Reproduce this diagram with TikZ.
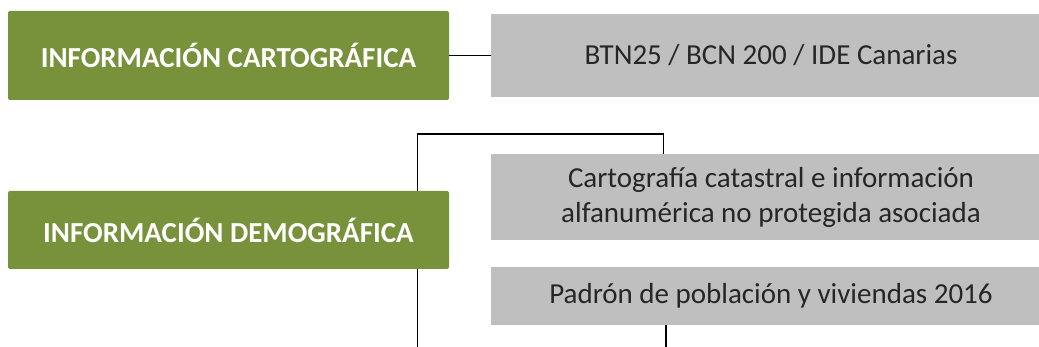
\documentclass[tikz,border=0pt]{standalone}
\usepackage{fontspec}
\setmainfont{Carlito}
\definecolor{olive}{HTML}{77923B}
\definecolor{lgray}{HTML}{BFBFBF}
\begin{document}
\begin{tikzpicture}[x=1pt,y=-1pt,
  greenbox/.style={fill=olive,draw=none,rounded corners=2pt,text=white,font=\fontsize{29}{35}\selectfont\bfseries,align=center,inner sep=0pt,minimum width=441pt},
  graybox/.style={fill=lgray,draw=none,text=black!85,font=\fontsize{29}{35}\selectfont,align=center,inner sep=0pt,minimum width=560pt},
  conn/.style={draw=black,line width=1.8pt}]
\useasboundingbox (0,0) rectangle (1039,347);
\clip (0,0) rectangle (1039,347);
\coordinate (c1) at (417.5,360);
\coordinate (c2) at (663.5,134);
\coordinate (c3) at (666,360);
\node[greenbox,minimum height=89pt] (g1) at (228.5,55.5) {INFORMACIÓN CARTOGRÁFICA};
\node[graybox,minimum height=83pt] (b1) at (771,55.5) {BTN25 / BCN 200 / IDE Canarias};
\node[graybox,minimum height=86pt] (b2) at (771,197) {Cartografía catastral e información\\alfanumérica no protegida asociada};
\node[graybox,minimum height=58pt] (b3) at (771,296) {Padrón de población y viviendas 2016};
\draw[conn] (g1.east) -- (b1.west);
\draw[conn] (b3.south -| c3) -- (c3);
\draw[conn] (c1) |- (c2) -- (b2.north -| c2);
\node[greenbox,minimum height=78pt] (g2) at (228.5,230) {INFORMACIÓN DEMOGRÁFICA};
\end{tikzpicture}
\end{document}
